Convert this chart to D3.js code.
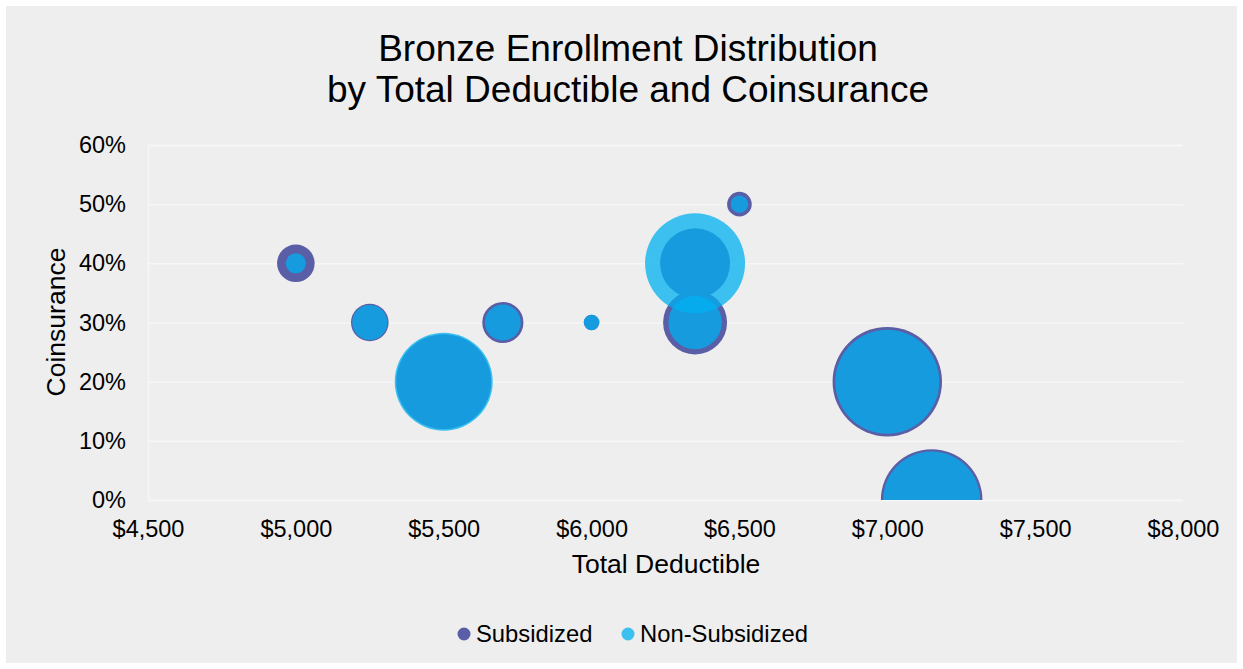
<!DOCTYPE html>
<html>
<head>
<meta charset="utf-8">
<script src="https://cdn.jsdelivr.net/npm/d3@7"></script>
<style>
  html, body { margin: 0; padding: 0; background: #ffffff; }
  svg { display: block; font-family: "Liberation Sans", Arial, sans-serif; }
</style>
</head>
<body>
<svg id="chart" width="1243" height="669"></svg>
<script>
// ---- Data ----
const titleLines = ["Bronze Enrollment Distribution", "by Total Deductible and Coinsurance"];
const xTicks = [4500, 5000, 5500, 6000, 6500, 7000, 7500, 8000];
const yTicks = [0, 0.1, 0.2, 0.3, 0.4, 0.5, 0.6];
const deductibles   = [5000, 5250, 5500, 5700, 6000, 6350, 6350, 6500, 7000, 7150];
const coinsurance   = [0.40, 0.30, 0.20, 0.30, 0.30, 0.40, 0.30, 0.50, 0.20, 0.00];
const subsidized    = [350, 350, 2240, 420, 60, 1215, 1015, 150, 2970, 2560];
const nonSubsidized = [100, 305, 2380, 320, 60, 2480, 705, 75, 2680, 2330];
const seriesNames = ["Subsidized", "Non-Subsidized"];

// ---- Layout ----
const svg = d3.select("#chart");
const plot = { left: 148, right: 1183, top: 145, bottom: 500 };

svg.append("rect").attr("x", 6).attr("y", 6).attr("width", 1231).attr("height", 657)
  .attr("fill", "#eeeeee");

const x = d3.scaleLinear().domain([4500, 8000]).range([plot.left, plot.right]);
const y = d3.scaleLinear().domain([0, 0.6]).range([plot.bottom, plot.top]);
const r = d3.scaleSqrt().domain([0, 3000]).range([0, 55]);

// gridlines + y axis
const yAxis = d3.axisLeft(y).tickValues(yTicks).tickFormat(d3.format(".0%"))
  .tickSize(-(plot.right - plot.left)).tickPadding(22);
const gy = svg.append("g").attr("transform", `translate(${plot.left},0)`).call(yAxis);
gy.select(".domain").attr("stroke", "#f6f6f6").attr("stroke-width", 1.5);
gy.selectAll(".tick line").attr("stroke", "#f6f6f6").attr("stroke-width", 1.5);
gy.selectAll(".tick text").attr("fill", "#000").style("font-size", "23.5px")
  .style("font-family", "Liberation Sans, Arial, sans-serif");

const xAxis = d3.axisBottom(x).tickValues(xTicks).tickFormat(d3.format("$,")).tickSize(0).tickPadding(20);
const gx = svg.append("g").attr("transform", `translate(0,${plot.bottom})`).call(xAxis);
gx.select(".domain").remove();
gx.selectAll(".tick text").attr("fill", "#000").style("font-size", "23.5px")
  .style("font-family", "Liberation Sans, Arial, sans-serif");

// clip
svg.append("clipPath").attr("id", "plotclip").append("rect")
  .attr("x", plot.left).attr("y", plot.top - 60)
  .attr("width", plot.right - plot.left).attr("height", plot.bottom - plot.top + 60);

const idx = d3.range(deductibles.length);
const bubbles = svg.append("g").attr("clip-path", "url(#plotclip)");

bubbles.append("g").selectAll("circle")
  .data(idx.slice().sort((a, b) => subsidized[b] - subsidized[a]))
  .join("circle")
  .attr("cx", i => x(deductibles[i]))
  .attr("cy", i => y(coinsurance[i]))
  .attr("r", i => r(subsidized[i]))
  .attr("fill", "#5a5ea6");

bubbles.append("g").selectAll("circle")
  .data(idx.slice().sort((a, b) => nonSubsidized[b] - nonSubsidized[a]))
  .join("circle")
  .attr("cx", i => x(deductibles[i]))
  .attr("cy", i => y(coinsurance[i]))
  .attr("r", i => r(nonSubsidized[i]))
  .attr("fill", "#00b0f0")
  .attr("fill-opacity", 0.75);

// title
svg.append("text").attr("x", 628).attr("y", 61).attr("text-anchor", "middle")
  .style("font-size", "37px").attr("fill", "#000").text(titleLines[0]);
svg.append("text").attr("x", 628).attr("y", 102).attr("text-anchor", "middle")
  .style("font-size", "37px").attr("fill", "#000").text(titleLines[1]);

// axis titles
svg.append("text").attr("x", 666).attr("y", 573).attr("text-anchor", "middle")
  .style("font-size", "26.5px").attr("fill", "#000").text("Total Deductible");
svg.append("text").attr("transform", "translate(65,322) rotate(-90)").attr("text-anchor", "middle")
  .style("font-size", "26.5px").attr("fill", "#000").text("Coinsurance");

// legend
const legendItems = [
  { name: seriesNames[0], cx: 464, tx: 476, fill: "#5a5ea6", op: 1 },
  { name: seriesNames[1], cx: 628, tx: 640, fill: "#00b0f0", op: 0.75 }
];
const lg = svg.append("g");
legendItems.forEach(it => {
  lg.append("circle").attr("cx", it.cx).attr("cy", 634).attr("r", 6.5)
    .attr("fill", it.fill).attr("fill-opacity", it.op);
  lg.append("text").attr("x", it.tx).attr("y", 642).style("font-size", "23.8px")
    .attr("fill", "#000").text(it.name);
});
</script>
</body>
</html>
